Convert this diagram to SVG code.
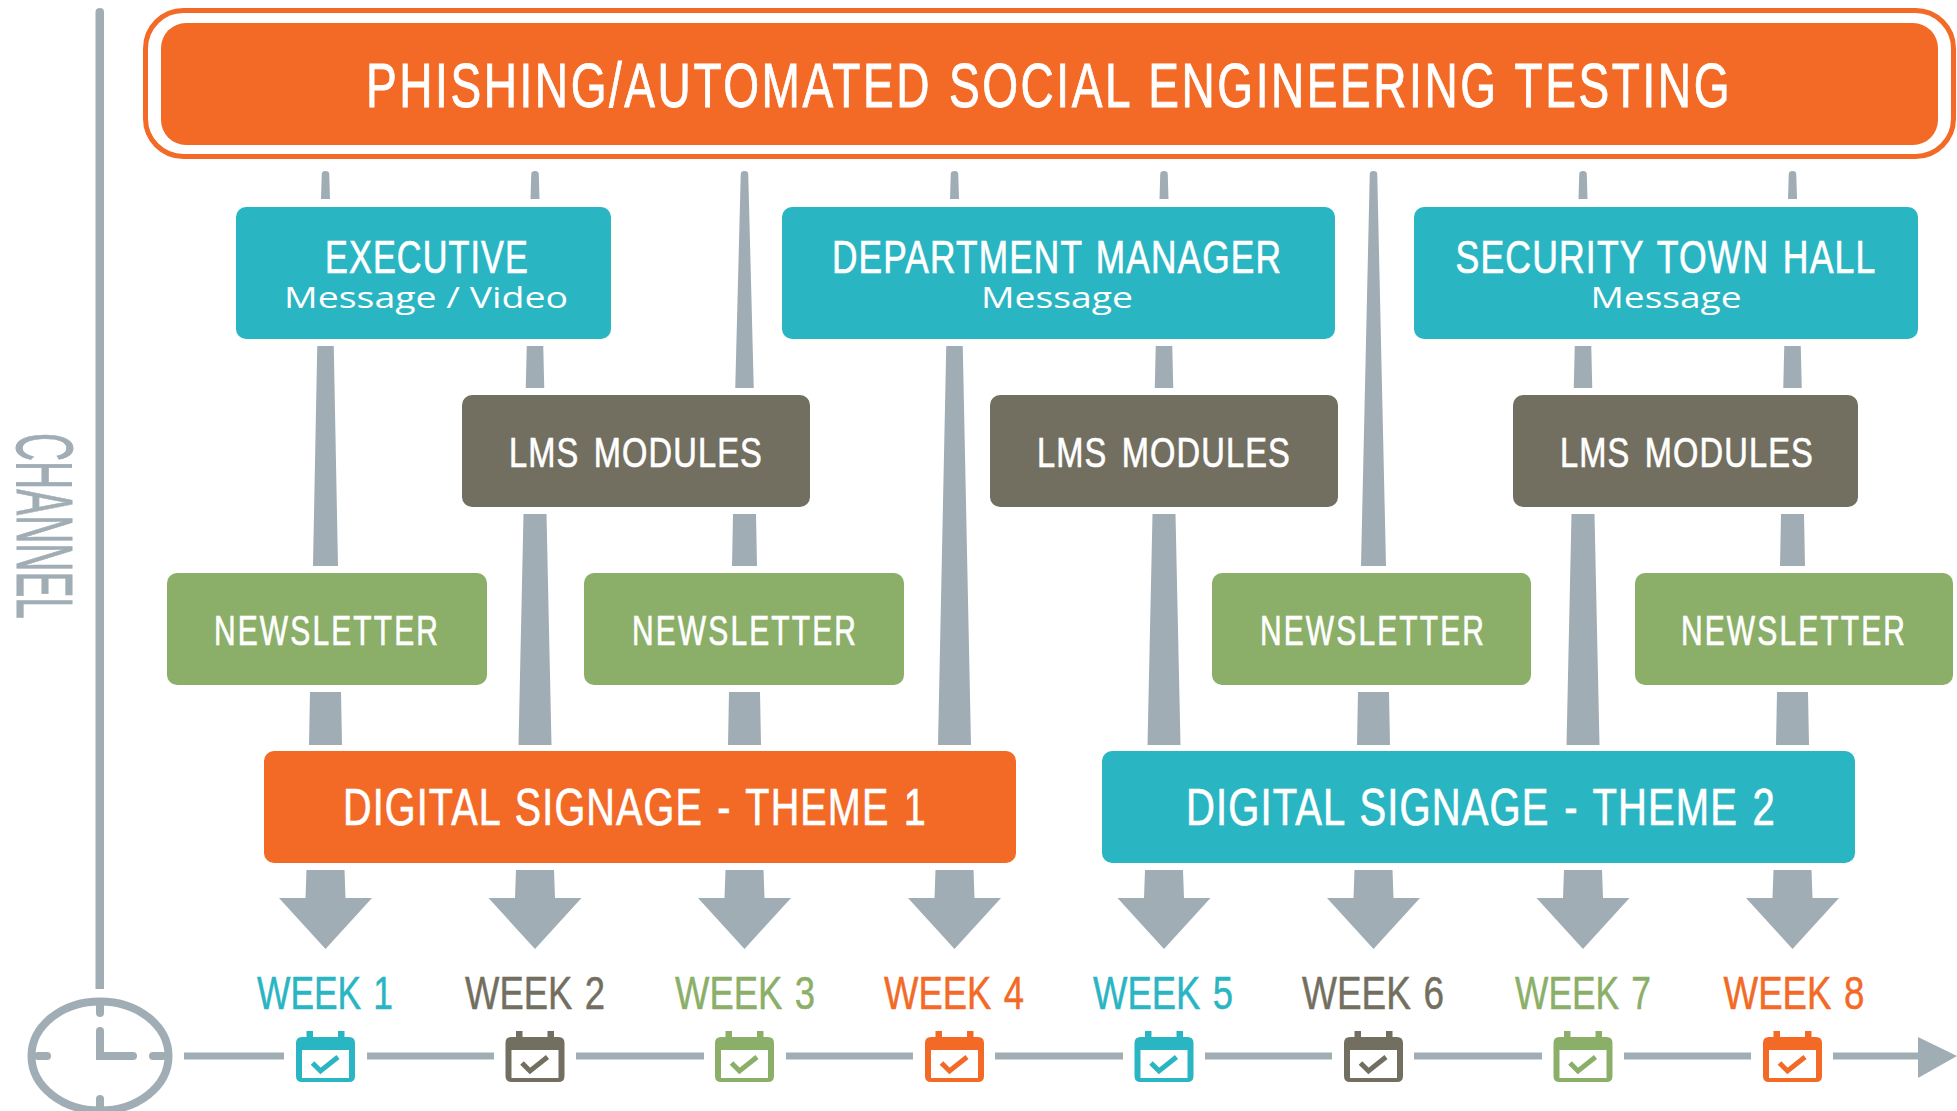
<svg xmlns="http://www.w3.org/2000/svg" width="1957" height="1111" viewBox="0 0 1957 1111">
<defs>
<style>
.t{font-family:"Liberation Sans",Arial,sans-serif;text-anchor:middle;fill:#fff;stroke:#fff;stroke-width:.7px;letter-spacing:1.500px;word-spacing:3px}
.s{font-family:"Open Sans","Liberation Sans",sans-serif;text-anchor:middle;fill:#fff;font-size:30px}
.c{fill:#A0ADB5}
.tl{stroke:#A0ADB5;stroke-width:7;fill:none}
.o{fill:#F26A26;color:#F26A26}.b{fill:#2AB5C3;color:#2AB5C3}.g{fill:#736F60;color:#736F60}.n{fill:#8BAF68;color:#8BAF68}
.w{font-family:"Liberation Sans",Arial,sans-serif;font-size:47px;text-anchor:middle;stroke:currentColor;stroke-width:.5px;word-spacing:3px}
</style>
<g id="cal">
<path d="M-19 -25V-19H-23.500Q-29.500 -19 -29.500 -13V20Q-29.500 26 -23.500 26H23.500Q29.500 26 29.500 20V-13Q29.500 -19 23.500 -19H19V-25H12.500V-19H-12.500V-25Z"/>
<rect x="-23.500" y="-6" width="47" height="28" fill="#fff"/>
<polyline points="-13,7 -5,15 12.500,1" fill="none" stroke="currentColor" stroke-width="5"/>
</g>
<path id="ar" class="c" d="M-19 870H19L20 898H46.500L0 949L-46.500 898H-20Z"/>
</defs>
<rect width="1957" height="1111" fill="#fff"/>
<g id="connectors">
<g class="c">
<path transform="translate(325.500)" d="M-3.750 174Q-3.750 171 0 171Q3.750 171 3.750 174L4.500 199H-4.500ZM-8.250 346H8.250L12.500 566H-12.500ZM-15.500 692H15.500L16.500 745H-16.500Z"/>
<path transform="translate(535)" d="M-3.750 174Q-3.750 171 0 171Q3.750 171 3.750 174L4.500 199H-4.500ZM-8.250 346H8.250L9.250 388H-9.250ZM-11.500 514H11.500L16.500 745H-16.500Z"/>
<path transform="translate(744.500)" d="M-3.750 174Q-3.750 171 0 171Q3.750 171 3.750 174L9.250 388H-9.250ZM-11.500 514H11.500L12.500 566H-12.500ZM-15.500 692H15.500L16.500 745H-16.500Z"/>
<path transform="translate(954.500)" d="M-3.750 174Q-3.750 171 0 171Q3.750 171 3.750 174L4.500 199H-4.500ZM-8.250 346H8.250L16.500 745H-16.500Z"/>
<path transform="translate(1164)" d="M-3.750 174Q-3.750 171 0 171Q3.750 171 3.750 174L4.500 199H-4.500ZM-8.250 346H8.250L9.250 388H-9.250ZM-11.500 514H11.500L16.500 745H-16.500Z"/>
<path transform="translate(1373.500)" d="M-3.750 174Q-3.750 171 0 171Q3.750 171 3.750 174L12.500 566H-12.500ZM-15.500 692H15.500L16.500 745H-16.500Z"/>
<path transform="translate(1583)" d="M-3.750 174Q-3.750 171 0 171Q3.750 171 3.750 174L4.500 199H-4.500ZM-8.250 346H8.250L9.250 388H-9.250ZM-11.500 514H11.500L16.500 745H-16.500Z"/>
<path transform="translate(1792.500)" d="M-3.750 174Q-3.750 171 0 171Q3.750 171 3.750 174L4.500 199H-4.500ZM-8.250 346H8.250L9.250 388H-9.250ZM-11.500 514H11.500L12.500 566H-12.500ZM-15.500 692H15.500L16.500 745H-16.500Z"/>
</g>
<use href="#ar" x="325.500"/><use href="#ar" x="535"/><use href="#ar" x="744.500"/><use href="#ar" x="954.500"/>
<use href="#ar" x="1164"/><use href="#ar" x="1373.500"/><use href="#ar" x="1583"/><use href="#ar" x="1792.500"/>
<path class="tl" d="M184 1056H284M367 1056H494M576 1056H704M786 1056H913M995 1056H1123M1205 1056H1332M1414 1056H1542M1624 1056H1751M1833 1056H1920"/>
<path class="c" d="M1918 1037L1957 1056L1918 1078Z"/>
<path class="c" d="M95.500 12Q95.500 8 100 8Q104 8 104 12V989H95.500Z"/>
</g>
<g id="channel-label"><text class="c" transform="translate(17,433) rotate(90)" font-family="Liberation Sans, sans-serif" font-size="80" stroke="#A0ADB5" stroke-width="1" textLength="186" lengthAdjust="spacingAndGlyphs">CHANNEL</text></g>
<g id="clock">
<ellipse cx="100" cy="1056" rx="68.500" ry="54.500" fill="none" stroke="#A0ADB5" stroke-width="8"/>
<path d="M100 1002V1013M100 1099V1111M38 1056H47M153 1056H163M100 1031V1056H133" fill="none" stroke="#A0ADB5" stroke-width="8" stroke-linecap="round"/>
</g>
<g id="phishing">
<rect x="145.500" y="10.500" width="1808" height="146" rx="38" fill="none" stroke="#F26A26" stroke-width="5"/>
<rect x="161" y="23" width="1777" height="122" rx="25" class="o"/>
<text class="t" x="1049" y="107" font-size="63" textLength="1366" lengthAdjust="spacingAndGlyphs" style="letter-spacing:3.500px;word-spacing:2px;stroke-width:.9px">PHISHING/AUTOMATED SOCIAL ENGINEERING TESTING</text>
</g>
<g id="executive"><rect x="236" y="207" width="375" height="132" rx="10" class="b"/>
<text class="t" x="427" y="273" font-size="46" textLength="204" lengthAdjust="spacingAndGlyphs">EXECUTIVE</text>
<text class="s" x="426" y="308" textLength="284" lengthAdjust="spacingAndGlyphs">Message / Video</text></g>
<g id="department-manager"><rect x="782" y="207" width="553" height="132" rx="10" class="b"/>
<text class="t" x="1057" y="273" font-size="46" textLength="450" lengthAdjust="spacingAndGlyphs">DEPARTMENT MANAGER</text>
<text class="s" x="1057" y="308" textLength="152" lengthAdjust="spacingAndGlyphs">Message</text></g>
<g id="security-town-hall"><rect x="1414" y="207" width="504" height="132" rx="10" class="b"/>
<text class="t" x="1666" y="273" font-size="46" textLength="421" lengthAdjust="spacingAndGlyphs">SECURITY TOWN HALL</text>
<text class="s" x="1666" y="308" textLength="151" lengthAdjust="spacingAndGlyphs">Message</text></g>
<g id="lms-1"><rect x="462" y="395" width="348" height="112" rx="10" class="g"/><text class="t" x="636" y="467" font-size="42" textLength="254" lengthAdjust="spacingAndGlyphs" style="word-spacing:5px">LMS MODULES</text></g>
<g id="lms-2"><rect x="990" y="395" width="348" height="112" rx="10" class="g"/><text class="t" x="1164" y="467" font-size="42" textLength="254" lengthAdjust="spacingAndGlyphs" style="word-spacing:5px">LMS MODULES</text></g>
<g id="lms-3"><rect x="1513" y="395" width="345" height="112" rx="10" class="g"/><text class="t" x="1687" y="467" font-size="42" textLength="254" lengthAdjust="spacingAndGlyphs" style="word-spacing:5px">LMS MODULES</text></g>
<g id="newsletter-1"><rect x="167" y="573" width="320" height="112" rx="10" class="n"/><text class="t" x="327" y="645" font-size="42" textLength="226" lengthAdjust="spacingAndGlyphs" style="letter-spacing:3px">NEWSLETTER</text></g>
<g id="newsletter-2"><rect x="584" y="573" width="320" height="112" rx="10" class="n"/><text class="t" x="745" y="645" font-size="42" textLength="226" lengthAdjust="spacingAndGlyphs" style="letter-spacing:3px">NEWSLETTER</text></g>
<g id="newsletter-3"><rect x="1212" y="573" width="319" height="112" rx="10" class="n"/><text class="t" x="1373" y="645" font-size="42" textLength="226" lengthAdjust="spacingAndGlyphs" style="letter-spacing:3px">NEWSLETTER</text></g>
<g id="newsletter-4"><rect x="1635" y="573" width="318" height="112" rx="10" class="n"/><text class="t" x="1794" y="645" font-size="42" textLength="226" lengthAdjust="spacingAndGlyphs" style="letter-spacing:3px">NEWSLETTER</text></g>
<g id="signage-1"><rect x="264" y="751" width="752" height="112" rx="10" class="o"/><text class="t" x="635" y="825" font-size="52" textLength="584" lengthAdjust="spacingAndGlyphs">DIGITAL SIGNAGE - THEME 1</text></g>
<g id="signage-2"><rect x="1102" y="751" width="753" height="112" rx="10" class="b"/><text class="t" x="1481" y="825" font-size="52" textLength="590" lengthAdjust="spacingAndGlyphs">DIGITAL SIGNAGE - THEME 2</text></g>
<g id="week-1"><text class="w b" x="325" y="1009" textLength="136" lengthAdjust="spacingAndGlyphs">WEEK 1</text><use href="#cal" x="325.500" y="1056" class="b"/></g>
<g id="week-2"><text class="w g" x="535" y="1009" textLength="140" lengthAdjust="spacingAndGlyphs">WEEK 2</text><use href="#cal" x="535" y="1056" class="g"/></g>
<g id="week-3"><text class="w n" x="745" y="1009" textLength="140" lengthAdjust="spacingAndGlyphs">WEEK 3</text><use href="#cal" x="744.500" y="1056" class="n"/></g>
<g id="week-4"><text class="w o" x="954" y="1009" textLength="140" lengthAdjust="spacingAndGlyphs">WEEK 4</text><use href="#cal" x="954.500" y="1056" class="o"/></g>
<g id="week-5"><text class="w b" x="1163" y="1009" textLength="140" lengthAdjust="spacingAndGlyphs">WEEK 5</text><use href="#cal" x="1164" y="1056" class="b"/></g>
<g id="week-6"><text class="w g" x="1373" y="1009" textLength="142" lengthAdjust="spacingAndGlyphs">WEEK 6</text><use href="#cal" x="1373.500" y="1056" class="g"/></g>
<g id="week-7"><text class="w n" x="1583" y="1009" textLength="136" lengthAdjust="spacingAndGlyphs">WEEK 7</text><use href="#cal" x="1583" y="1056" class="n"/></g>
<g id="week-8"><text class="w o" x="1794" y="1009" textLength="141" lengthAdjust="spacingAndGlyphs">WEEK 8</text><use href="#cal" x="1792.500" y="1056" class="o"/></g>
</svg>
